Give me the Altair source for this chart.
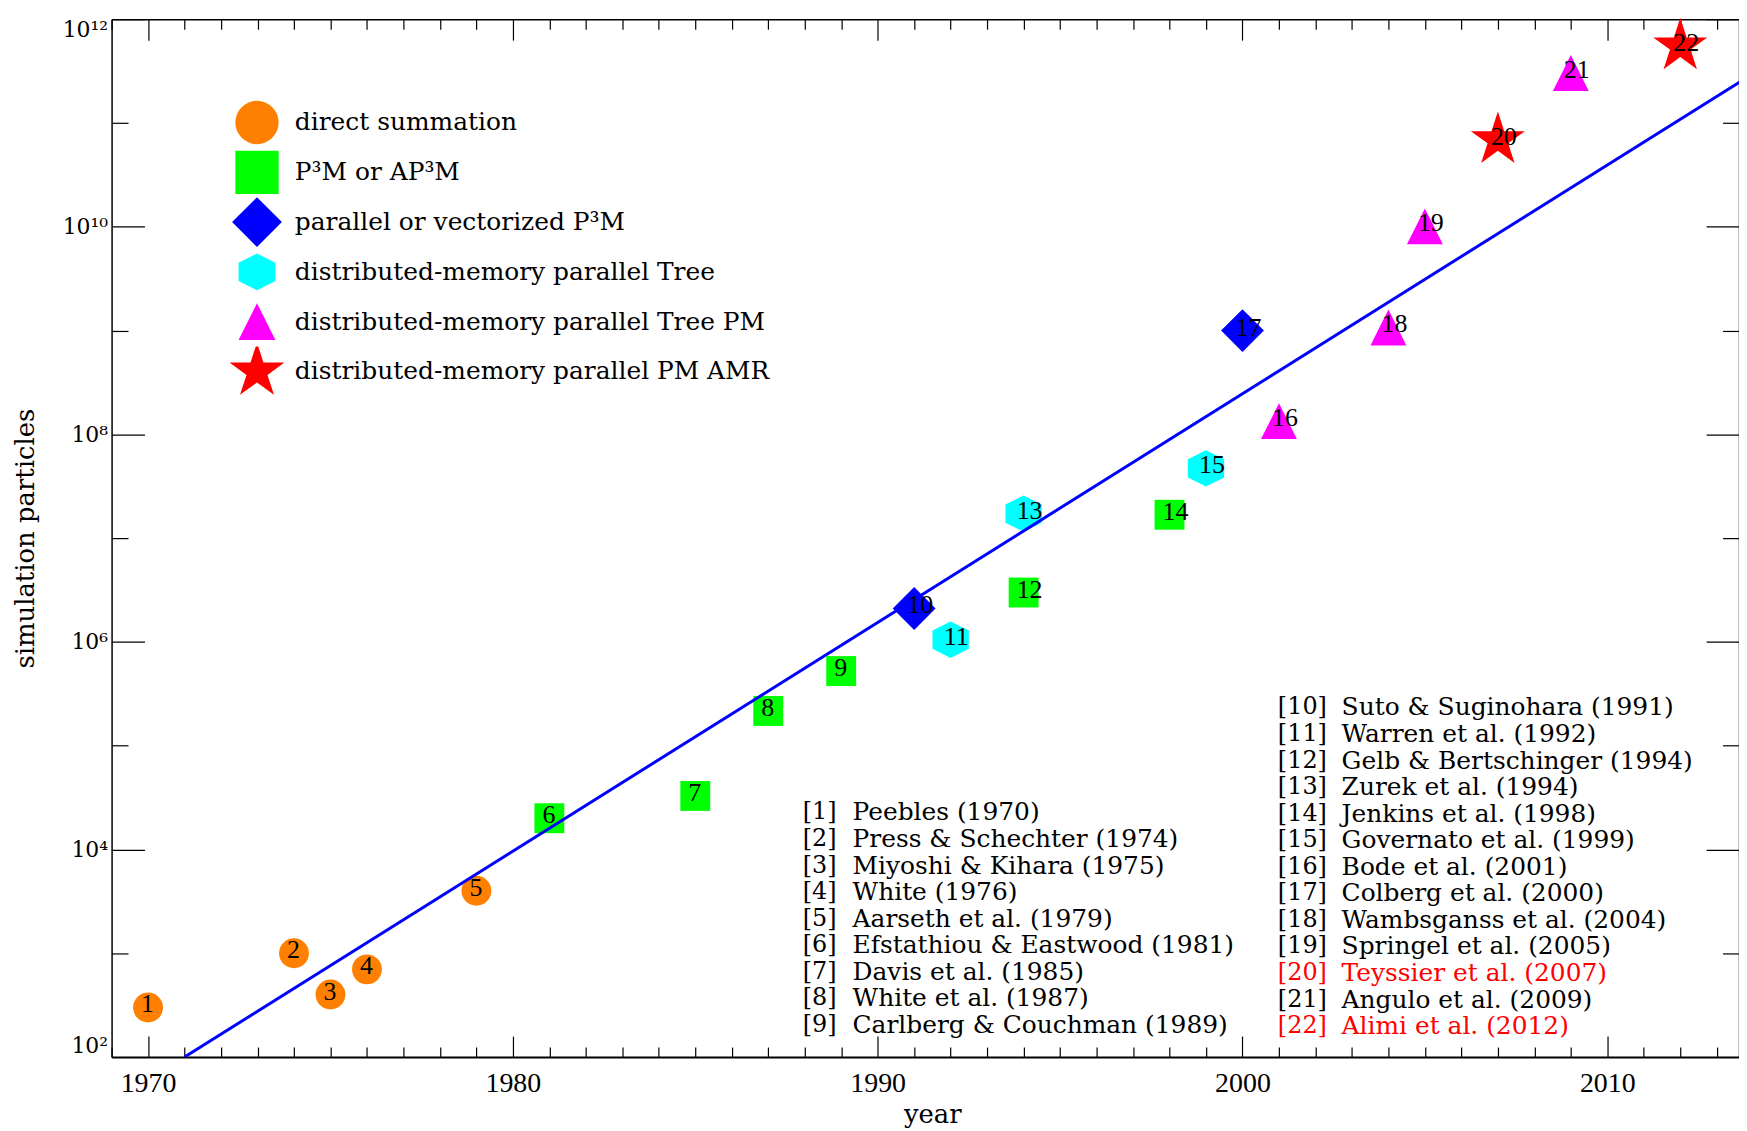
import altair as alt
import pandas as pd

# ---------------- data ----------------
years = [1970, 1974, 1975, 1976, 1979, 1981, 1985, 1987, 1989, 1991, 1992,
         1994, 1994, 1998, 1999, 2001, 2000, 2004, 2005, 2007, 2009, 2012]
particles = [3.0e2, 1.0e3, 4.0e2, 7.0e2, 4.0e3, 2.0e4, 3.28e4, 2.16e5, 5.24e5,
             2.1e6, 1.05e6, 2.99e6, 1.72e7, 1.68e7, 4.7e7, 1.34e8, 1.0e9,
             1.07e9, 1.01e10, 6.87e10, 3.03e11, 5.5e11]
method_names = ["direct summation", "P³M or AP³M", "parallel or vectorized P³M",
                "distributed-memory parallel Tree",
                "distributed-memory parallel Tree PM",
                "distributed-memory parallel PM AMR"]
point_method = [0, 0, 0, 0, 0, 1, 1, 1, 1, 2, 3, 1, 3, 1, 3, 4, 2, 4, 4, 5, 4, 5]
ref_labels = ["Peebles (1970)", "Press & Schechter (1974)", "Miyoshi & Kihara (1975)",
              "White (1976)", "Aarseth et al. (1979)", "Efstathiou & Eastwood (1981)",
              "Davis et al. (1985)", "White et al. (1987)", "Carlberg & Couchman (1989)",
              "Suto & Suginohara (1991)", "Warren et al. (1992)",
              "Gelb & Bertschinger (1994)", "Zurek et al. (1994)",
              "Jenkins et al. (1998)", "Governato et al. (1999)", "Bode et al. (2001)",
              "Colberg et al. (2000)", "Wambsganss et al. (2004)",
              "Springel et al. (2005)", "Teyssier et al. (2007)",
              "Angulo et al. (2009)", "Alimi et al. (2012)"]
highlighted_refs = [20, 22]
fit_years = [1971, 2014]
fit_particles = [1.0e2, 3.0e11]

x_major = [1970, 1980, 1990, 2000, 2010]
x_minor = [y for y in range(1969, 2014) if y not in x_major]
y_major = [1e2, 1e4, 1e6, 1e8, 1e10, 1e12]
y_minor = [1e3, 1e5, 1e7, 1e9, 1e11]
y_tick_text = ["10²", "10⁴", "10⁶", "10⁸", "10¹⁰", "10¹²"]

# ---------------- styles ----------------
HEX = "M0,-1L1,-0.5L1,0.5L0,1L-1,0.5L-1,-0.5Z"
TRI = "M0,-1L1,1L-1,1Z"
STAR = ("M0,-1L0.2245,-0.309L0.951,-0.309L0.363,0.118L0.588,0.809L0,0.382"
        "L-0.588,0.809L-0.363,0.118L-0.951,-0.309L-0.2245,-0.309Z")
method_colors = ["#ff8000", "#00ff00", "#0000ff", "#00ffff", "#ff00ff", "#ff0000"]
method_shapes = ["circle", "square", "diamond", HEX, TRI, STAR]
marker_area = [900, 900, 1849, 1332, 1296, 3249]
legend_area = [1892, 1892, 2500, 1369, 1369, 3364]

W, H = 1634, 1042
X_DOMAIN = [1969, 2013.61]
SERIF = "DejaVu Serif"
NUMFONT = "Liberation Serif"

pts = pd.DataFrame({
    "year": years,
    "particles": particles,
    "method": [method_names[i] for i in point_method],
    "num": [str(i + 1) for i in range(len(years))],
    "msize": [marker_area[i] for i in point_method],
})
fit = pd.DataFrame({"year": fit_years, "particles": fit_particles})

# reference list layout (two columns, bottom right)
rows = []
for i, txt in enumerate(ref_labels):
    n = i + 1
    if n <= 9:
        r = i
        nx, tx, top = 694, 744, 796.5
    else:
        r = i - 9
        nx, tx, top = 1171, 1235, 691
    rows.append({
        "nx": nx, "tx": tx, "py": top + r * 26.67,
        "num": f"[{n}]", "label": txt,
        "tcolor": "#ff0000" if n in highlighted_refs else "#000000",
    })
refs = pd.DataFrame(rows)

xs = alt.Scale(domain=X_DOMAIN, nice=False, zero=False)
ys = alt.Scale(type="log", domain=[1e2, 1e12], nice=False)


def tick_axis(orient, offset, values, size, domain=False):
    return alt.Axis(orient=orient, offset=offset, values=values, tickSize=size,
                    ticks=True, labels=False, domain=domain, domainColor="black",
                    domainWidth=1.5, tickColor="black", tickWidth=1.2,
                    title=None, grid=False)


label_expr = ""
for v, t in zip(y_major[:-1], y_tick_text[:-1]):
    label_expr += f"datum.value < {v * 5:g} ? '{t}' : "
label_expr += f"'{y_tick_text[-1]}'"

ax_x_labels = alt.Axis(orient="bottom", values=x_major, format="d", ticks=False,
                       tickSize=0, domain=True, domainColor="black", domainWidth=2,
                       labelFont=NUMFONT, labelFontSize=28, labelColor="black",
                       labelPadding=13, title="year", titleFont=SERIF,
                       titleFontSize=26, titleFontWeight="normal", titleColor="black",
                       titleX=824, titleY=45, titleBaseline="top", grid=False)
ax_y_labels = alt.Axis(orient="left", values=y_major, ticks=False, tickSize=0,
                       domain=True, domainColor="black", domainWidth=1.5,
                       labelExpr=label_expr, labelFont=SERIF, labelFontSize=22,
                       labelColor="black", labelPadding=4, labelFlush=True,
                       title="simulation particles", titleFont=SERIF,
                       titleFontSize=26, titleFontWeight="normal",
                       titleColor="black", titleX=-73, titleY=H / 2,
                       titleAngle=270, titleBaseline="bottom", grid=False)

size_expr = ""
for m, a in zip(method_names[:-1], legend_area[:-1]):
    size_expr += f"datum.value === '{m}' ? {a} : "
size_expr += str(legend_area[-1])

legend = alt.Legend(title=None, orient="none", legendX=117, legendY=78.7,
                    padding=0, direction="vertical", columns=1, clipHeight=50,
                    rowPadding=0, gridAlign="each",
                    symbolSize=alt.ExprRef(expr=size_expr),
                    symbolStrokeWidth=0, labelFont=SERIF, labelFontSize=25,
                    labelColor="black", labelOffset=9, labelLimit=1000,
                    labelBaseline="middle")

points = alt.Chart(pts).mark_point(filled=True, opacity=1, strokeWidth=0).encode(
    x=alt.X("year:Q", scale=xs, axis=tick_axis("top", -H, x_major, 21)),
    y=alt.Y("particles:Q", scale=ys, axis=tick_axis("right", -W, y_major, 33)),
    color=alt.Color("method:N", scale=alt.Scale(domain=method_names, range=method_colors),
                    legend=legend),
    shape=alt.Shape("method:N", scale=alt.Scale(domain=method_names, range=method_shapes),
                    legend=legend),
    size=alt.Size("msize:Q", scale=None),
)

line = alt.Chart(fit).mark_line(color="#0000ff", strokeWidth=3, clip=True).encode(
    x=alt.X("year:Q", scale=xs, axis=ax_x_labels),
    y=alt.Y("particles:Q", scale=ys, axis=ax_y_labels),
)

num_labels = alt.Chart(pts).mark_text(align="left", baseline="middle", dx=-7, dy=-3,
                                      font=NUMFONT, fontSize=26, color="black").encode(
    x=alt.X("year:Q", scale=xs, axis=tick_axis("top", -H, x_minor, 10)),
    y=alt.Y("particles:Q", scale=ys, axis=tick_axis("right", -W, y_minor, 16.5)),
    text="num:N",
)

frame_major = alt.Chart(fit).mark_line(strokeOpacity=0).encode(
    x=alt.X("year:Q", scale=xs, axis=tick_axis("bottom", -H, x_major, 21, domain=True)),
    y=alt.Y("particles:Q", scale=ys, axis=tick_axis("left", -W, y_major, 33, domain=True)),
)
frame_minor = alt.Chart(fit).mark_line(strokeOpacity=0).encode(
    x=alt.X("year:Q", scale=xs, axis=tick_axis("bottom", -H, x_minor, 10)),
    y=alt.Y("particles:Q", scale=ys, axis=tick_axis("left", -W, y_minor, 16.5)),
)

ref_base = alt.Chart(refs)
ref_num = ref_base.mark_text(align="left", baseline="middle", font=SERIF,
                             fontSize=24).encode(
    x=alt.X("nx:Q", scale=None, axis=None), y=alt.Y("py:Q", scale=None, axis=None),
    text="num:N", color=alt.Color("tcolor:N", scale=None))
ref_txt = ref_base.mark_text(align="left", baseline="middle", font=SERIF,
                             fontSize=25).encode(
    x=alt.X("tx:Q", scale=None, axis=None), y=alt.Y("py:Q", scale=None, axis=None),
    text="label:N", color=alt.Color("tcolor:N", scale=None))

chart = alt.layer(
    points, line, num_labels, frame_major, frame_minor, ref_num, ref_txt,
).resolve_axis(x="independent", y="independent").properties(
    width=W, height=H,
    autosize=alt.AutoSizeParams(type="none"),
    padding={"left": 104, "top": 9, "right": 0, "bottom": 70},
).configure_view(stroke=None)

chart.save("out.html", embed_options={"renderer": "svg", "actions": False})
